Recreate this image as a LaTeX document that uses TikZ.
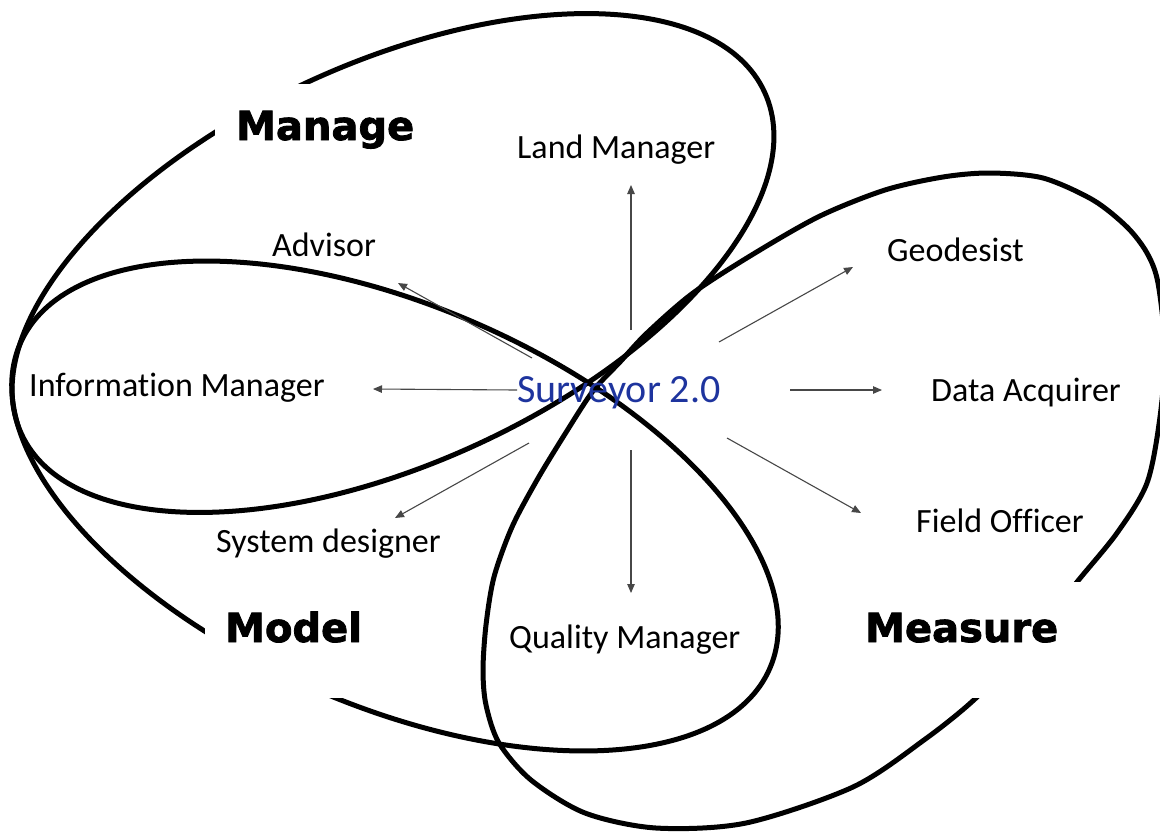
\documentclass[tikz,border=0pt]{standalone}
\usepackage{fontspec}
\setmainfont{Carlito}[Ligatures=NoCommon]
\newfontfamily\heavyfont{DejaVu Sans}[BoldFeatures={FakeBold=2}]
\usetikzlibrary{arrows.meta}
\definecolor{survblue}{RGB}{30,52,158}
\begin{document}
\begin{tikzpicture}[x=1pt,y=1pt,
  loopline/.style={line width=5pt, draw=black},
  arr/.style={draw=black!72, line width=1.1pt, -{Triangle[length=9pt,width=7.5pt]}},
  lbl/.style={font=\fontsize{34}{40}\selectfont, anchor=base west, inner sep=0pt, text=black},
  big/.style={font=\heavyfont\bfseries\fontsize{40}{46}\selectfont, anchor=base west, inner sep=0pt, text=black},
  mask/.style={fill=white}]
\clip (0,0) rectangle (1160,-831);
\fill[white] (0,0) rectangle (1160,-831);

% loops
\draw[loopline, rotate around={24.7:(393,-263)}] (393,-263) ellipse [x radius=409pt, y radius=200pt];
\draw[loopline, rotate around={-23.4:(395,-506)}] (395,-506) ellipse [x radius=408.5pt, y radius=200pt];
\draw[loopline] plot[smooth cycle] coordinates {
  (593,-391) (620,-362) (647,-333) (693,-293) (755,-253) (820,-216) (885,-190) (943,-177)
  (990,-173) (1043,-178) (1093,-200) (1127,-227) (1147,-253) (1158,-283)
  (1165,-350) (1160,-417) (1147,-483) (1117,-533) (1077,-582) (1030,-641)
  (976,-698) (924,-740) (853,-787) (746,-823) (656,-828) (585,-813) (531,-780)
  (499,-743) (486,-705) (483,-670) (486,-625) (494,-577) (512,-527) (537,-480) (565,-434)};

% white label boxes
\fill[mask] (215,-84) rectangle (430,-165);
\fill[mask] (205,-595) rectangle (380,-698);
\fill[mask] (850,-582) rectangle (1165,-698);

% labels
\node[big] (manage) at (236,-140) {Manage};
\node[big] (model) at (225,-642) {Model};
\node[big] (measure) at (865,-642) {Measure};

\node[lbl, text=survblue, font=\fontsize{40}{46}\selectfont] (surv) at (517,-402) {Surveyor 2.0};
\node[lbl] (land) at (517,-158) {Land Manager};
\node[lbl] (advisor) at (272,-256) {Advisor};
\node[lbl] (info) at (29,-396) {Information Manager};
\node[lbl] (system) at (216,-552) {System designer};
\node[lbl] (quality) at (509,-648) {Quality Manager};
\node[lbl] (geo) at (887,-261) {Geodesist};
\node[lbl] (data) at (931,-401) {Data Acquirer};
\node[lbl] (field) at (916,-532) {Field Officer};

% arrow ends
\coordinate (sLand) at (631,-330);   \coordinate (tLand) at (631,-185);
\coordinate (sAdv) at (532,-358);    \coordinate (tAdv) at (398,-283);
\coordinate (sInfo) at (517,-390);   \coordinate (tInfo) at (373,-389);
\coordinate (sSys) at (529,-443);    \coordinate (tSys) at (395,-518);
\coordinate (sQual) at (631,-450);   \coordinate (tQual) at (631,-593);
\coordinate (sField) at (727,-438);  \coordinate (tField) at (861,-513);
\coordinate (sData) at (790,-390);   \coordinate (tData) at (882,-390);
\coordinate (sGeo) at (719,-342);    \coordinate (tGeo) at (853,-267);

\draw[arr] (sLand) -- (tLand);
\draw[arr] (sAdv) -- (tAdv);
\draw[arr] (sInfo) -- (tInfo);
\draw[arr] (sSys) -- (tSys);
\draw[arr] (sQual) -- (tQual);
\draw[arr] (sField) -- (tField);
\draw[arr] (sData) -- (tData);
\draw[arr] (sGeo) -- (tGeo);
\end{tikzpicture}
\end{document}
